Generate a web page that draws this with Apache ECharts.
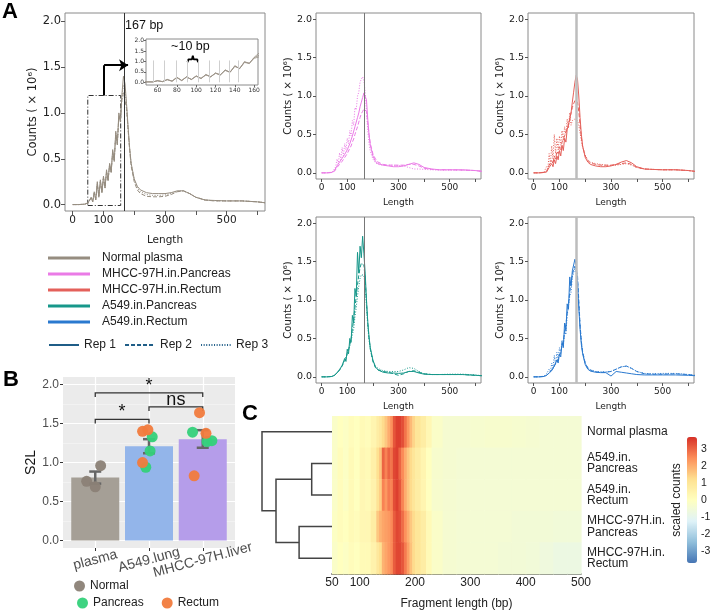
<!DOCTYPE html>
<html>
<head>
<meta charset="UTF-8">
<title>cfDNA fragment length</title>
<script src="https://cdn.jsdelivr.net/npm/echarts@6.0.0/dist/echarts.min.js"></script>
<style>
html,body{margin:0;padding:0;background:#fff;}
#main{width:712px;height:614px;}
</style>
</head>
<body>
<div id="main"></div>
<script type="text/javascript">
var FONT_A = 'DejaVu Sans';
var FONT = 'Liberation Sans, Arial, sans-serif';

// fragment length (bp) sampled for every line panel
var lenX = [0, 20, 40,
	50, 55, 60, 65, 70, 75, 80, 85, 90, 95, 100, 105, 110, 115, 120, 125, 130, 135, 140, 145, 150, 155, 160,
	165, 170, 175, 180, 185, 190,
	200, 210, 220,
	240, 260, 280, 300, 320, 340, 360, 380, 400,
	430, 460, 500, 550, 600, 625];

// counts (x10^6), rep 1 / rep 2 / rep 3
var normalRep1 = [0, 0, 0.005,
	0.02, 0.015, 0.08, 0.03, 0.14, 0.05, 0.25, 0.08, 0.27, 0.13, 0.31, 0.18, 0.38, 0.26, 0.45, 0.35, 0.60, 0.47, 0.80, 0.65, 1.00, 0.90, 1.20,
	1.40, 1.32, 1.10, 0.85, 0.62, 0.45,
	0.28, 0.20, 0.16,
	0.13, 0.12, 0.12, 0.12, 0.13, 0.15, 0.15, 0.12, 0.08,
	0.05, 0.045, 0.04, 0.04, 0.03, 0.02];
var normalRep2 = [0, 0, 0.005,
	0.02, 0.02, 0.07, 0.035, 0.12, 0.06, 0.22, 0.09, 0.25, 0.14, 0.29, 0.19, 0.35, 0.27, 0.43, 0.36, 0.57, 0.49, 0.76, 0.67, 0.95, 0.92, 1.15,
	1.22, 1.20, 1.05, 0.82, 0.60, 0.42,
	0.25, 0.16, 0.12,
	0.09, 0.085, 0.085, 0.09, 0.11, 0.14, 0.15, 0.12, 0.08,
	0.05, 0.04, 0.04, 0.04, 0.03, 0.02];
var normalRep3 = [0, 0, 0.005,
	0.02, 0.02, 0.075, 0.03, 0.13, 0.055, 0.23, 0.085, 0.26, 0.135, 0.30, 0.185, 0.36, 0.265, 0.44, 0.355, 0.58, 0.48, 0.78, 0.66, 0.97, 0.91, 1.18,
	1.30, 1.26, 1.07, 0.83, 0.61, 0.44,
	0.27, 0.18, 0.14,
	0.11, 0.10, 0.10, 0.105, 0.12, 0.145, 0.15, 0.12, 0.08,
	0.05, 0.042, 0.04, 0.04, 0.03, 0.02];

var pinkRep1 = [0, 0, 0.005,
	0.03, 0.05, 0.09, 0.08, 0.14, 0.12, 0.19, 0.18, 0.24, 0.24, 0.30, 0.30, 0.38, 0.39, 0.48, 0.50, 0.60, 0.62, 0.72, 0.78, 0.86, 0.92, 0.98,
	1.04, 1.06, 0.95, 0.70, 0.50, 0.36,
	0.22, 0.15, 0.12,
	0.10, 0.09, 0.08, 0.08, 0.09, 0.11, 0.13, 0.11, 0.07,
	0.05, 0.04, 0.04, 0.04, 0.03, 0.02];
var pinkRep2 = [0, 0, 0.005,
	0.02, 0.04, 0.07, 0.07, 0.11, 0.11, 0.15, 0.16, 0.20, 0.21, 0.25, 0.27, 0.32, 0.35, 0.40, 0.44, 0.50, 0.55, 0.60, 0.66, 0.72, 0.77, 0.80,
	0.83, 0.85, 0.80, 0.65, 0.50, 0.38,
	0.25, 0.18, 0.14,
	0.11, 0.10, 0.10, 0.10, 0.10, 0.11, 0.11, 0.09, 0.06,
	0.045, 0.04, 0.04, 0.035, 0.03, 0.02];
var pinkRep3 = [0, 0, 0.01,
	0.05, 0.08, 0.18, 0.12, 0.26, 0.17, 0.33, 0.22, 0.38, 0.30, 0.45, 0.38, 0.55, 0.48, 0.68, 0.62, 0.85, 0.82, 1.00, 1.05, 1.18, 1.22, 1.25,
	1.20, 1.05, 0.80, 0.55, 0.38, 0.28,
	0.18, 0.13, 0.11,
	0.10, 0.10, 0.10, 0.095, 0.09, 0.07, 0.05, 0.05, 0.045,
	0.04, 0.035, 0.035, 0.035, 0.03, 0.02];

var redRep1 = [0, 0, 0.005,
	0.01, 0.04, 0.07, 0.05, 0.12, 0.08, 0.17, 0.12, 0.22, 0.17, 0.29, 0.22, 0.36, 0.29, 0.45, 0.40, 0.56, 0.55, 0.70, 0.78, 0.92, 1.05, 1.18,
	1.27, 1.22, 1.00, 0.72, 0.50, 0.35,
	0.20, 0.14, 0.11,
	0.09, 0.08, 0.08, 0.09, 0.11, 0.14, 0.16, 0.13, 0.08,
	0.05, 0.045, 0.04, 0.04, 0.03, 0.02];
var redRep2 = [0, 0, 0.005,
	0.02, 0.06, 0.10, 0.08, 0.16, 0.12, 0.22, 0.18, 0.28, 0.25, 0.34, 0.30, 0.40, 0.38, 0.48, 0.50, 0.58, 0.62, 0.70, 0.78, 0.85, 0.90, 0.94,
	0.95, 0.92, 0.80, 0.62, 0.46, 0.34,
	0.22, 0.16, 0.13,
	0.11, 0.10, 0.10, 0.10, 0.11, 0.12, 0.13, 0.11, 0.07,
	0.05, 0.045, 0.04, 0.04, 0.03, 0.02];
var redRep3 = [0, 0, 0.01,
	0.08, 0.05, 0.25, 0.12, 0.35, 0.18, 0.50, 0.25, 0.45, 0.30, 0.48, 0.36, 0.55, 0.42, 0.60, 0.50, 0.70, 0.58, 0.78, 0.62, 0.68, 0.66, 0.70,
	0.70, 0.68, 0.62, 0.52, 0.42, 0.33,
	0.23, 0.17, 0.14,
	0.12, 0.11, 0.10, 0.095, 0.10, 0.11, 0.12, 0.10, 0.07,
	0.05, 0.045, 0.04, 0.04, 0.03, 0.02];

var tealRep1 = [0, 0, 0.005,
	0.02, 0.03, 0.05, 0.05, 0.09, 0.08, 0.15, 0.13, 0.24, 0.20, 0.36, 0.30, 0.50, 0.45, 0.80, 0.70, 1.15, 1.05, 1.62, 1.35, 1.70, 1.55, 1.83,
	1.60, 1.35, 1.00, 0.72, 0.52, 0.38,
	0.22, 0.13, 0.09,
	0.06, 0.05, 0.05, 0.045, 0.05, 0.07, 0.07, 0.05, 0.035,
	0.03, 0.03, 0.03, 0.03, 0.02, 0.015];
var tealRep2 = [0, 0, 0.005,
	0.02, 0.03, 0.05, 0.06, 0.09, 0.10, 0.14, 0.16, 0.21, 0.24, 0.30, 0.35, 0.42, 0.50, 0.62, 0.75, 0.90, 1.05, 1.20, 1.32, 1.42, 1.48, 1.50,
	1.45, 1.28, 0.98, 0.70, 0.50, 0.36,
	0.20, 0.12, 0.09,
	0.07, 0.06, 0.04, 0.02, 0.04, 0.07, 0.08, 0.06, 0.04,
	0.03, 0.03, 0.03, 0.03, 0.02, 0.015];
var tealRep3 = [0, 0, 0.005,
	0.02, 0.04, 0.06, 0.05, 0.10, 0.08, 0.15, 0.13, 0.22, 0.20, 0.30, 0.30, 0.40, 0.42, 0.55, 0.62, 0.78, 0.90, 1.05, 1.18, 1.28, 1.33, 1.35,
	1.32, 1.18, 0.92, 0.66, 0.48, 0.36,
	0.21, 0.14, 0.11,
	0.08, 0.07, 0.07, 0.07, 0.09, 0.12, 0.11, 0.07, 0.04,
	0.03, 0.03, 0.035, 0.035, 0.025, 0.015];

var blueRep1 = [0, 0, 0.005,
	0.02, 0.03, 0.05, 0.05, 0.08, 0.08, 0.14, 0.12, 0.22, 0.18, 0.30, 0.26, 0.45, 0.38, 0.70, 0.60, 0.95, 0.88, 1.30, 1.18, 1.38, 1.40, 1.53,
	1.45, 1.22, 0.90, 0.62, 0.42, 0.30,
	0.16, 0.10, 0.075,
	0.06, 0.055, 0.055, 0.01, 0.07, 0.06, 0.05, 0.04, 0.03,
	0.025, 0.025, 0.025, 0.025, 0.02, 0.015];
var blueRep2 = [0, 0, 0.005,
	0.02, 0.03, 0.05, 0.06, 0.09, 0.10, 0.14, 0.16, 0.20, 0.23, 0.28, 0.32, 0.40, 0.46, 0.58, 0.68, 0.82, 0.95, 1.10, 1.22, 1.33, 1.40, 1.44,
	1.45, 1.32, 1.00, 0.68, 0.46, 0.32,
	0.18, 0.11, 0.085,
	0.065, 0.06, 0.06, 0.07, 0.10, 0.13, 0.14, 0.11, 0.07,
	0.04, 0.035, 0.035, 0.04, 0.03, 0.02];
var blueRep3 = [0, 0, 0.01,
	0.04, 0.03, 0.10, 0.06, 0.18, 0.10, 0.28, 0.16, 0.32, 0.22, 0.38, 0.30, 0.48, 0.40, 0.60, 0.55, 0.80, 0.78, 1.05, 1.10, 1.30, 1.35, 1.42,
	1.40, 1.28, 0.96, 0.66, 0.45, 0.32,
	0.18, 0.12, 0.095,
	0.07, 0.065, 0.065, 0.07, 0.10, 0.13, 0.14, 0.11, 0.07,
	0.045, 0.04, 0.045, 0.045, 0.03, 0.02];

var peakLen = 167;
var lenTicks = [0, 100, 200, 300, 400, 500, 600];
var lenLabels = [0, 100, 300, 500];
var countTicks = [0, 0.5, 1, 1.5, 2];
var insetTicks = [60, 80, 100, 120, 140, 160];
var insetGuides = [56, 67, 79, 91, 102, 113, 124, 134, 144];
var zoomBox = [49, 156, -0.01, 1.19];           // x0, x1, y0, y1
var arrowPath = [[102, 1.19], [102, 1.52], [180, 1.52]];
var braceShape = [[91, 0.96], [92, 1.1], [95.5, 1.1], [96.5, 1.27], [97.5, 1.1], [101, 1.1], [102, 0.96]];

// B: S2L
var groupNames = ['plasma', 'A549.lung', 'MHCC-97H.liver'];
var barColors = ['#a59f96', '#93b5ea', '#b59dea'];
var s2lMean = [0.81, 1.21, 1.30];
var s2lLow = [0.73, 1.12, 1.19];
var s2lHigh = [0.885, 1.30, 1.415];
var normalVals = [0.76, 0.69, 0.96];
var normalGrp = [0, 0, 0];
var normalJit = [-0.16, 0, 0.10];
var pancVals = [1.33, 1.15, 0.94, 1.39, 1.27, 1.28];
var pancGrp = [1, 1, 1, 2, 2, 2];
var pancJit = [0.06, 0.02, -0.06, -0.19, 0.08, 0.17];
var rectVals = [1.40, 1.42, 1.00, 1.64, 1.375, 0.83];
var rectGrp = [1, 1, 1, 2, 2, 2];
var rectJit = [-0.12, -0.02, -0.12, -0.06, 0.06, -0.16];
var sigPairs = [[0, 2, 1.894, 1.84], [0, 1, 1.554, 1.50], [1, 2, 1.715, 1.66]];
var sigLabels = ['*', '*', 'ns'];

// C: heatmap of scaled counts
var heatEdges = [50, 60, 70, 80, 90, 100, 110, 120, 130, 135, 140, 145, 150, 155, 160, 165, 170, 175, 180, 185, 190, 195, 200,
	210, 220, 230, 250, 275, 300, 325, 350, 375, 400, 425, 450, 475, 500];
var heatRows = ['Normal plasma', 'A549.in.\nPancreas', 'A549.in.\nRectum', 'MHCC-97H.in.\nPancreas', 'MHCC-97H.in.\nRectum'];
var heatNormal = [-0.2, 0.0, -0.1, 0.1, 0.0, 0.2, 0.1, 0.4,
	0.7, 0.9, 1.3, 1.6, 2.0, 2.4, 3.2, 3.5, 3.5, 3.3, 2.8, 2.3, 1.8, 1.4,
	1.0, 0.7, 0.3,
	-0.2, -0.4, -0.4, -0.35, -0.3, -0.3, -0.35, -0.4, -0.45, -0.45, -0.45];
var heatA549P = [-0.2, 0.1, -0.1, 0.2, 0.0, 0.3, 0.2, 0.6,
	1.2, 1.6, 3.0, 2.6, 3.0, 2.8, 3.4, 3.5, 3.0, 2.5, 2.0, 1.6, 1.3, 1.0,
	0.7, 0.4, 0.0,
	-0.3, -0.4, -0.45, -0.45, -0.45, -0.45, -0.45, -0.45, -0.45, -0.45, -0.45];
var heatA549R = [-0.2, 0.1, -0.1, 0.2, 0.0, 0.3, 0.2, 0.5,
	1.1, 1.5, 2.6, 2.3, 2.7, 2.6, 3.3, 3.5, 3.2, 2.6, 2.0, 1.6, 1.3, 1.0,
	0.7, 0.4, 0.0,
	-0.3, -0.4, -0.45, -0.45, -0.45, -0.45, -0.45, -0.45, -0.45, -0.45, -0.45];
var heatMhccP = [-0.1, 0.1, 0.0, 0.2, 0.1, 0.3, 0.3, 0.7,
	1.6, 1.9, 2.1, 2.2, 2.3, 2.5, 3.1, 3.4, 3.3, 2.9, 2.4, 2.0, 1.6, 1.3,
	1.0, 0.7, 0.2,
	-0.2, -0.4, -0.45, -0.45, -0.45, -0.45, -0.5, -0.5, -0.5, -0.55, -0.55];
var heatMhccR = [-0.2, 0.0, -0.1, 0.1, 0.0, 0.2, 0.2, 0.5,
	0.9, 1.2, 1.9, 2.1, 2.3, 2.5, 3.1, 3.4, 3.4, 3.2, 2.7, 2.2, 1.7, 1.3,
	1.0, 0.7, 0.2,
	-0.2, -0.4, -0.45, -0.45, -0.45, -0.5, -0.5, -0.55, -0.65, -0.75, -0.75];
var heatVals = [heatNormal, heatA549P, heatA549R, heatMhccP, heatMhccR];
// dendrogram merges: [rowA, rowB, heightA, heightB, mergeHeight]
var dendroMerges = [[1.5, 2.5, 0, 0, 0.29], [3.5, 4.5, 0, 0, 0.47], [2.0, 4.0, 0.29, 0.47, 0.8], [0.5, 3.0, 0, 0.8, 1.0]];
var heatColors = ['#4575b4', '#91bfdb', '#e0f3f8', '#ffffbf', '#fee090', '#fc8d59', '#d73027'];
var scaleTicks = [-3, -2, -1, 0, 1, 2, 3];

var dashTypes = ['solid', [4, 2], [1, 1.6]];
var fmt1 = function (v) { return v.toFixed(1); };

function pairs(ys) {
	var out = [];
	for (var i = 0; i < lenX.length; i++) {
		out.push([lenX[i], ys[i]]);
	}
	return out;
}

function repLines(name, reps, color, gi) {
	var arr = [];
	for (var r = 0; r < reps.length; r++) {
		arr.push({
			type: 'line', name: name, xAxisIndex: gi, yAxisIndex: gi, data: pairs(reps[r]),
			symbol: 'none', silent: true, clip: true, z: 3,
			lineStyle: {color: color, width: 1, type: dashTypes[r]},
			itemStyle: {color: color}
		});
	}
	return arr;
}

function peakSeries(gi, color, width) {
	return {
		type: 'line', xAxisIndex: gi, yAxisIndex: gi, data: [], silent: true,
		markLine: {silent: true, symbol: 'none', animation: false, label: {show: false},
			lineStyle: {color: color, width: width, type: 'solid'}, data: [{xAxis: peakLen}]}
	};
}

function lenAxis(gi, min, max, fs, gap, tickLen) {
	return {
		type: 'value', gridIndex: gi, min: min, max: max,
		name: 'Length', nameLocation: 'middle', nameGap: gap,
		nameTextStyle: {fontFamily: FONT_A, fontSize: fs, color: '#222'},
		axisLine: {show: false, onZero: false},
		axisTick: {show: true, length: tickLen, lineStyle: {color: '#555'}, customValues: lenTicks},
		axisLabel: {fontFamily: FONT_A, fontSize: fs, color: '#222', margin: 4, customValues: lenLabels},
		splitLine: {show: false}
	};
}

function countAxis(gi, min, max, fs, nfs, gap, tickLen) {
	return {
		type: 'value', gridIndex: gi, min: min, max: max,
		name: 'Counts ( \u00d7 10\u2076)', nameLocation: 'middle', nameGap: gap,
		nameTextStyle: {fontFamily: FONT_A, fontSize: nfs, color: '#222'},
		axisLine: {show: false, onZero: false},
		axisTick: {show: true, length: tickLen, lineStyle: {color: '#555'}, customValues: countTicks},
		axisLabel: {fontFamily: FONT_A, fontSize: fs, color: '#222', margin: 4, customValues: countTicks, formatter: fmt1},
		splitLine: {show: false}
	};
}

function frameGrid(l, t, w, h) {
	return {left: l, top: t, width: w, height: h, show: true, borderColor: '#8a8a8a', borderWidth: 1,
		backgroundColor: '#fff', containLabel: false, outerBoundsMode: 'none'};
}

var grids = [
	frameGrid(65, 13, 200, 198),      // 0 A main
	frameGrid(146, 39, 112, 46),      // 1 inset
	frameGrid(316, 13, 165, 166),     // 2 pancreas MHCC
	frameGrid(528, 13, 166, 166),     // 3 rectum MHCC
	frameGrid(316, 217, 165, 166),    // 4 pancreas A549
	frameGrid(528, 217, 166, 166),    // 5 rectum A549
	{left: 63, top: 377, width: 172, height: 171, show: true, backgroundColor: '#ebebeb', borderWidth: 0, outerBoundsMode: 'none'}, // 6 B
	{left: 332, top: 416, width: 249, height: 158, outerBoundsMode: 'none'},  // 7 heatmap
	{left: 262, top: 416, width: 70, height: 158, outerBoundsMode: 'none'},   // 8 dendrogram
	{left: 687, top: 437, width: 10, height: 126, outerBoundsMode: 'none'}    // 9 colour bar labels
];

var xAxes = [
	lenAxis(0, -25, 625, 10.5, 24, 4),
	{type: 'value', gridIndex: 1, min: 48, max: 164, axisLine: {show: false, onZero: false},
		axisTick: {length: 2, lineStyle: {color: '#666'}, customValues: insetTicks},
		axisLabel: {fontFamily: FONT_A, fontSize: 6, color: '#333', margin: 2, customValues: insetTicks}, splitLine: {show: false}},
	lenAxis(2, -22, 622, 9, 19, 3),
	lenAxis(3, -22, 622, 9, 19, 3),
	lenAxis(4, -22, 622, 9, 19, 3),
	lenAxis(5, -22, 622, 9, 19, 3),
	{type: 'value', gridIndex: 6, min: -0.6, max: 2.6, axisLine: {show: false, onZero: false},
		axisTick: {length: 3, lineStyle: {color: '#333'}, customValues: [0, 1, 2]},
		axisLabel: {customValues: [0, 1, 2], formatter: function (v) { return groupNames[Math.round(v)]; },
			rotate: 15, align: 'center', verticalAlign: 'middle', margin: 12, fontSize: 14, color: '#4d4d4d', fontFamily: FONT},
		splitLine: {show: true, lineStyle: {color: '#fff', width: 1.2}}},
	{type: 'value', gridIndex: 7, min: 50, max: 500,
		name: 'Fragment length (bp)', nameLocation: 'middle', nameGap: 24,
		nameTextStyle: {fontSize: 12, color: '#222', fontFamily: FONT},
		axisLine: {show: true, onZero: false, lineStyle: {color: '#111', width: 1.5}},
		axisTick: {length: 5, lineStyle: {color: '#111', width: 1.5}, customValues: [50, 100, 150, 200, 250, 300, 350, 400, 450, 500]},
		axisLabel: {customValues: [50, 100, 200, 300, 400, 500], fontSize: 12, color: '#222', margin: 3, fontFamily: FONT},
		splitLine: {show: false}},
	{type: 'value', gridIndex: 8, min: 0, max: 1, inverse: true, show: false},
	{type: 'value', gridIndex: 9, min: 0, max: 1, show: false}
];

var yAxes = [
	countAxis(0, -0.07, 2.09, 11.5, 11.5, 24, 4),
	{type: 'value', gridIndex: 1, min: -0.13, max: 2.08, axisLine: {show: false, onZero: false},
		axisTick: {length: 2, lineStyle: {color: '#666'}, customValues: countTicks},
		axisLabel: {fontFamily: FONT_A, fontSize: 6, color: '#333', margin: 2, customValues: countTicks, formatter: fmt1},
		splitLine: {show: false}},
	countAxis(2, -0.08, 2.08, 9.5, 10, 23, 3),
	countAxis(3, -0.08, 2.08, 9.5, 10, 23, 3),
	countAxis(4, -0.08, 2.08, 9.5, 10, 23, 3),
	countAxis(5, -0.08, 2.08, 9.5, 10, 23, 3),
	{type: 'value', gridIndex: 6, min: -0.095, max: 2.097,
		name: 'S2L', nameLocation: 'middle', nameGap: 24, nameTextStyle: {fontSize: 14, color: '#111', fontFamily: FONT},
		axisLine: {show: false, onZero: false},
		axisTick: {length: 3, lineStyle: {color: '#333'}, customValues: countTicks},
		axisLabel: {customValues: countTicks, formatter: fmt1, fontSize: 12, color: '#4d4d4d', margin: 4, fontFamily: FONT},
		splitLine: {show: true, lineStyle: {color: '#fff', width: 1.2}}},
	{type: 'value', gridIndex: 6, min: -0.095, max: 2.097, axisLine: {show: false, onZero: false},
		axisTick: {show: false, customValues: [0.25, 0.75, 1.25, 1.75]}, axisLabel: {show: false},
		splitLine: {show: true, lineStyle: {color: '#f7f7f7', width: 0.6}}},
	{type: 'category', gridIndex: 7, data: heatRows, inverse: true, position: 'right',
		axisLine: {show: false}, axisTick: {show: false}, splitLine: {show: false},
		axisLabel: {fontSize: 12, color: '#222', lineHeight: 11.5, margin: 6, align: 'left', fontFamily: FONT}},
	{type: 'value', gridIndex: 8, min: 0, max: 5, inverse: true, show: false},
	{type: 'value', gridIndex: 9, min: -3.7, max: 3.7, position: 'right',
		axisLine: {show: false}, axisTick: {show: false, customValues: scaleTicks}, splitLine: {show: false},
		axisLabel: {customValues: scaleTicks, fontSize: 10.5, color: '#222', margin: 4, fontFamily: FONT}},
	{type: 'value', gridIndex: 9, min: -3.7, max: 3.7, position: 'left',
		name: 'scaled counts', nameLocation: 'middle', nameGap: 4, nameTextStyle: {fontSize: 12, color: '#222', fontFamily: FONT},
		axisLine: {show: false}, axisTick: {show: false}, axisLabel: {show: false}, splitLine: {show: false}}
];

var series = [];
// A: main panel + inset
series = series.concat(repLines('Normal plasma', [normalRep1, normalRep2, normalRep3], '#968d80', 0));
series.push(peakSeries(0, '#333', 1));
series.push({
	type: 'line', xAxisIndex: 0, yAxisIndex: 0, data: [], silent: true,
	markArea: {silent: true, itemStyle: {color: 'rgba(0,0,0,0)', borderColor: '#333', borderWidth: 1, borderType: [5, 2, 1, 2]},
		data: [[{coord: [zoomBox[0], zoomBox[2]]}, {coord: [zoomBox[1], zoomBox[3]]}]]},
	markLine: {silent: true, animation: false, label: {show: false}, symbol: 'none', symbolSize: 9,
		lineStyle: {color: '#000', width: 2, type: 'solid'},
		data: [
			[{coord: arrowPath[0], symbol: 'none'}, {coord: arrowPath[1], symbol: 'none'}],
			[{coord: arrowPath[1], symbol: 'none'}, {coord: arrowPath[2], symbol: 'arrow'}]
		]},
	markPoint: {silent: true, symbol: 'circle', symbolSize: 0,
		label: {show: true, position: 'right', distance: 1, formatter: peakLen + ' bp', fontSize: 12.5, color: '#111', fontFamily: FONT},
		data: [{coord: [peakLen, 1.95]}]}
});
var insetReps = repLines('Normal plasma', [normalRep1, normalRep2, normalRep3], '#9a9286', 1);
for (var k = 0; k < insetReps.length; k++) { insetReps[k].lineStyle.type = 'solid'; insetReps[k].lineStyle.width = 0.8; }
series = series.concat(insetReps);
var guideData = [];
for (var g = 0; g < insetGuides.length; g++) {
	guideData.push([{coord: [insetGuides[g], 0]}, {coord: [insetGuides[g], 1.05]}]);
}
series.push({
	type: 'line', xAxisIndex: 1, yAxisIndex: 1, data: braceShape, symbol: 'none', silent: true, z: 4,
	lineStyle: {color: '#000', width: 1.8},
	markLine: {silent: true, symbol: 'none', animation: false, label: {show: false},
		lineStyle: {color: '#cfcfcf', width: 1, type: 'solid'}, data: guideData},
	markPoint: {silent: true, symbol: 'circle', symbolSize: 0,
		label: {show: true, position: 'inside', formatter: '~10 bp', fontSize: 12.5, color: '#111', fontFamily: FONT},
		data: [{coord: [94, 1.72]}]}
});
// A: small panels
series = series.concat(repLines('MHCC-97H.in.Pancreas', [pinkRep1, pinkRep2, pinkRep3], '#ea7be6', 2));
series.push(peakSeries(2, '#777', 1));
series = series.concat(repLines('MHCC-97H.in.Rectum', [redRep1, redRep2, redRep3], '#e4605a', 3));
series.push(peakSeries(3, '#bdbdbd', 2.5));
series = series.concat(repLines('A549.in.Pancreas', [tealRep1, tealRep2, tealRep3], '#17978a', 4));
series.push(peakSeries(4, '#777', 1));
series = series.concat(repLines('A549.in.Rectum', [blueRep1, blueRep2, blueRep3], '#2a79cf', 5));
series.push(peakSeries(5, '#bdbdbd', 2.5));
// rep line styles for legend
var repNames = ['Rep 1', 'Rep 2', 'Rep 3'];
for (var r = 0; r < 3; r++) {
	series.push({type: 'line', name: repNames[r], xAxisIndex: 0, yAxisIndex: 0, data: [], symbol: 'none',
		lineStyle: {color: '#1f5d87', width: 2, type: dashTypes[r]}, itemStyle: {color: 'rgba(0,0,0,0)', borderWidth: 0}});
}

// B
var barData = [];
for (var i = 0; i < s2lMean.length; i++) {
	barData.push({value: [i, s2lMean[i]], itemStyle: {color: barColors[i]}});
}
series.push({type: 'bar', xAxisIndex: 6, yAxisIndex: 6, data: barData, barWidth: 48, silent: true, z: 2});
var errData = [];
for (var i = 0; i < s2lMean.length; i++) { errData.push([i, s2lLow[i], s2lHigh[i]]); }
series.push({
	type: 'custom', xAxisIndex: 6, yAxisIndex: 6, data: errData, silent: true, z: 4,
	encode: {x: 0, y: [1, 2]},
	renderItem: function (params, api) {
		var x = api.value(0);
		var lo = api.coord([x, api.value(1)]);
		var hi = api.coord([x, api.value(2)]);
		var w = 6, st = {stroke: '#666', lineWidth: 2.5};
		return {type: 'group', children: [
			{type: 'line', shape: {x1: lo[0], y1: lo[1], x2: hi[0], y2: hi[1]}, style: st},
			{type: 'line', shape: {x1: lo[0] - w, y1: lo[1], x2: lo[0] + w, y2: lo[1]}, style: st},
			{type: 'line', shape: {x1: hi[0] - w, y1: hi[1], x2: hi[0] + w, y2: hi[1]}, style: st}
		]};
	}
});
series.push({
	type: 'custom', xAxisIndex: 6, yAxisIndex: 6, data: sigPairs, silent: true, z: 4,
	encode: {x: [0, 1], y: [2, 3]},
	renderItem: function (params, api) {
		var x1 = api.value(0), x2 = api.value(1), y = api.value(2), yd = api.value(3);
		var p = [api.coord([x1, yd]), api.coord([x1, y]), api.coord([x2, y]), api.coord([x2, yd])];
		return {type: 'group', children: [
			{type: 'polyline', shape: {points: p}, style: {stroke: '#333', lineWidth: 1.3, fill: null}},
			{type: 'text', x: (p[1][0] + p[2][0]) / 2, y: p[1][1] + 2,
				style: {text: sigLabels[params.dataIndex], fontSize: 18, fill: '#111', align: 'center', verticalAlign: 'bottom', fontFamily: FONT}}
		]};
	}
});
function jitterPts(vals, grp, jit) {
	var out = [];
	for (var i = 0; i < vals.length; i++) { out.push([grp[i] + jit[i], vals[i]]); }
	return out;
}
series.push({type: 'scatter', name: 'Normal', xAxisIndex: 6, yAxisIndex: 6, data: jitterPts(normalVals, normalGrp, normalJit),
	symbolSize: 11, itemStyle: {color: '#8b8176', opacity: 0.95}, silent: true, z: 5});
series.push({type: 'scatter', name: 'Pancreas', xAxisIndex: 6, yAxisIndex: 6, data: jitterPts(pancVals, pancGrp, pancJit),
	symbolSize: 11, itemStyle: {color: '#34d17a', opacity: 0.95}, silent: true, z: 5});
series.push({type: 'scatter', name: 'Rectum', xAxisIndex: 6, yAxisIndex: 6, data: jitterPts(rectVals, rectGrp, rectJit),
	symbolSize: 11, itemStyle: {color: '#f17b3d', opacity: 0.95}, silent: true, z: 5});

// C
var heatData = [];
for (var row = 0; row < heatVals.length; row++) {
	for (var b = 0; b < heatEdges.length - 1; b++) {
		heatData.push([heatEdges[b], heatEdges[b + 1], row, heatVals[row][b]]);
	}
}
var heatIndex = series.length;
series.push({
	type: 'custom', xAxisIndex: 7, yAxisIndex: 8, data: heatData, silent: true,
	encode: {x: [0, 1], y: 2},
	renderItem: function (params, api) {
		var a = api.coord([api.value(0), api.value(2)]);
		var c = api.coord([api.value(1), api.value(2)]);
		var h = api.size([0, 1])[1];
		return {type: 'rect', shape: {x: a[0], y: a[1] - h / 2, width: c[0] - a[0] + 0.6, height: h + 0.5},
			style: {fill: api.visual('color')}};
	}
});
series.push({
	type: 'custom', xAxisIndex: 8, yAxisIndex: 9, data: dendroMerges, silent: true,
	encode: {x: [2, 3, 4], y: [0, 1]},
	renderItem: function (params, api) {
		var yA = api.value(0), yB = api.value(1), hA = api.value(2), hB = api.value(3), hM = api.value(4);
		var pts = [api.coord([hA, yA]), api.coord([hM, yA]), api.coord([hM, yB]), api.coord([hB, yB])];
		return {type: 'polyline', shape: {points: pts}, style: {stroke: '#444', lineWidth: 1.5, fill: null}};
	}
});

var option = {
	animation: false,
	textStyle: {fontFamily: FONT},
	grid: grids,
	xAxis: xAxes,
	yAxis: yAxes,
	visualMap: {
		type: 'continuous', seriesIndex: heatIndex, dimension: 3, min: -3.7, max: 3.7,
		inRange: {color: heatColors}, left: 687, top: 437, itemWidth: 10, itemHeight: 126,
		calculable: false, hoverLink: false, padding: 0, text: null, showLabel: false
	},
	legend: [
		{left: 48, top: 250, orient: 'vertical', padding: 0, icon: 'rect', itemWidth: 42, itemHeight: 3, itemGap: 0, selectedMode: false,
			data: ['Normal plasma', 'MHCC-97H.in.Pancreas', 'MHCC-97H.in.Rectum', 'A549.in.Pancreas', 'A549.in.Rectum'],
			textStyle: {fontSize: 12, color: '#222', lineHeight: 16, padding: [0, 0, 0, 7], fontFamily: FONT}},
		{left: 48, top: 339, orient: 'horizontal', padding: 0, itemWidth: 30, itemHeight: 12, itemGap: 8, selectedMode: false,
			data: repNames, textStyle: {fontSize: 12, color: '#222', fontFamily: FONT}},
		{left: 74, top: 580, padding: 0, icon: 'circle', itemWidth: 11, itemHeight: 11, selectedMode: false,
			data: ['Normal'], textStyle: {fontSize: 12, color: '#222', fontFamily: FONT}},
		{left: 77, top: 597, padding: 0, icon: 'circle', itemWidth: 11, itemHeight: 11, itemGap: 18, selectedMode: false,
			data: ['Pancreas', 'Rectum'], textStyle: {fontSize: 12, color: '#222', fontFamily: FONT}}
	],
	graphic: [
		{type: 'text', left: 2, top: 1, style: {text: 'A', fontSize: 22, fontWeight: 'bold', fill: '#000', fontFamily: FONT}},
		{type: 'text', left: 3, top: 369, style: {text: 'B', fontSize: 22, fontWeight: 'bold', fill: '#000', fontFamily: FONT}},
		{type: 'text', left: 242, top: 403, style: {text: 'C', fontSize: 22, fontWeight: 'bold', fill: '#000', fontFamily: FONT}}
	],
	series: series
};

var chart = echarts.init(document.getElementById('main'), null, {renderer: 'canvas'});
chart.setOption(option);
</script>
</body>
</html>
